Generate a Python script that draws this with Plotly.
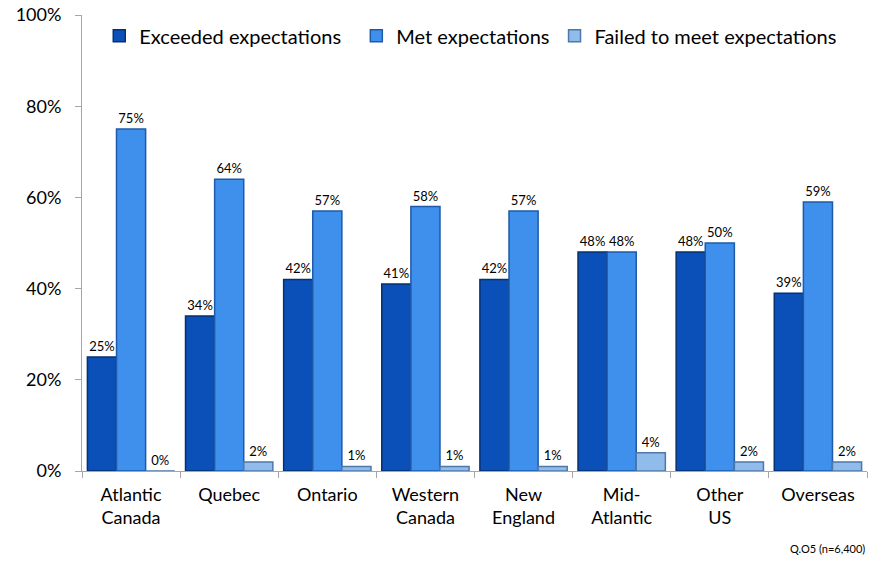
import plotly.graph_objects as go

# Data
regions = ['Atlantic<br>Canada', 'Quebec', 'Ontario', 'Western<br>Canada',
           'New<br>England', 'Mid-<br>Atlantic', 'Other<br>US', 'Overseas']
exceeded = [25, 34, 42, 41, 42, 48, 48, 39]
met = [75, 64, 57, 58, 57, 48, 50, 59]
failed = [0, 2, 1, 1, 1, 4, 2, 2]

series = [
    ('Exceeded expectations&nbsp;&nbsp;', exceeded, '#0b50b8', '#06306e'),
    ('Met expectations', met, '#3f90ec', '#1f5aa8'),
    ('Failed to meet expectations', failed, '#8fbcea', '#4f78a8'),
]

fig = go.Figure()
for name, vals, color, edge in series:
    fig.add_trace(go.Bar(
        name=name, x=regions, y=vals,
        marker=dict(color=color, line=dict(color=edge, width=1.5)),
        text=[f'{v}%' for v in vals], textposition='outside',
        textfont=dict(size=13, color='black'), cliponaxis=False,
    ))

fig.update_layout(
    barmode='group', bargap=0.11, bargroupgap=0,
    width=880, height=565,
    margin=dict(l=82, r=13, t=15, b=94, autoexpand=False),
    plot_bgcolor='white', paper_bgcolor='white',
    font=dict(family='Lato, Open Sans, sans-serif', size=18, color='black'),
    legend=dict(orientation='h', x=0.022, y=0.997, xanchor='left', yanchor='top',
                font=dict(size=20), bgcolor='rgba(0,0,0,0)', itemwidth=30),
    showlegend=True,
)
fig.update_xaxes(showline=True, linecolor='#a6a6a6', linewidth=1, automargin=False,
                 ticks='outside', tickson='boundaries', tickcolor='#a6a6a6', ticklen=6,
                 tickfont=dict(size=18), ticklabelstandoff=7)
fig.update_yaxes(range=[0, 100], dtick=20, ticksuffix='%', showgrid=False, zeroline=False,
                 showline=True, linecolor='#a6a6a6', linewidth=1, automargin=False,
                 ticks='outside', tickcolor='#a6a6a6', ticklen=6, tickfont=dict(size=18),
                 ticklabeloverflow='allow', ticklabelstandoff=10)

fig.add_annotation(text='Q.O5 (n=6,400)', xref='paper', yref='paper', x=1.0, y=-0.169,
                   xanchor='right', yanchor='middle', showarrow=False, font=dict(size=11))

# drop the default page margin so the figure sits at the window's corner
fig.write_html('out.html', config={'displayModeBar': False},
               post_script="document.body.style.margin='0';")
